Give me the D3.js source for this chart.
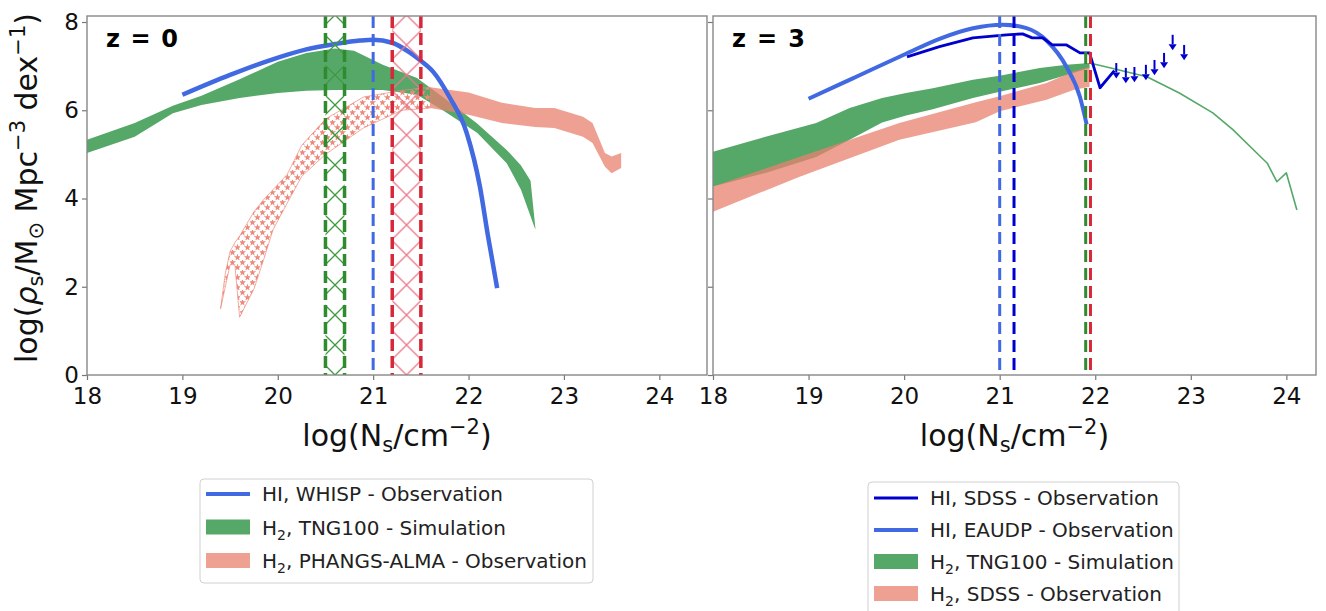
<!DOCTYPE html>
<html>
<head>
<meta charset="utf-8">
<script src="https://cdnjs.cloudflare.com/ajax/libs/d3/7.8.5/d3.min.js"></script>
<style>
  body { margin: 0; background: #fff; }
  svg { display: block; font-family: "DejaVu Sans", sans-serif; }
  text { white-space: pre; }
</style>
</head>
<body>
<script>
// ticks
const xTicks = [18, 19, 20, 21, 22, 23, 24];
const yTicks = [0, 2, 4, 6, 8];

// ---- z = 0 ----
// HI, WHISP
const whispN   = [19.0, 19.5, 19.9, 20.3, 20.6, 20.86, 21.0, 21.2, 21.39, 21.5, 21.63, 21.8, 21.98, 22.12, 22.2, 22.3];
const whispRho = [6.35, 6.8, 7.12, 7.38, 7.5, 7.58, 7.6, 7.53, 7.3, 7.12, 6.87, 6.3, 5.49, 4.26, 3.2, 1.97];
// H2, TNG100 z=0 band
const tngZ0N  = [18.0, 18.5, 18.9, 19.2, 19.6, 20.0, 20.3, 20.6, 20.8, 21.1, 21.46, 21.73, 22.09, 22.4, 22.55, 22.65, 22.7];
const tngZ0Hi = [5.33, 5.71, 6.1, 6.33, 6.7, 7.1, 7.3, 7.4, 7.35, 7.03, 6.73, 6.3, 5.7, 5.1, 4.75, 4.4, 3.35];
const tngZ0Lo = [5.03, 5.4, 5.93, 6.12, 6.28, 6.39, 6.44, 6.46, 6.46, 6.46, 6.35, 6.0, 5.49, 4.8, 4.2, 3.6, 3.3];
// H2, PHANGS-ALMA (hatched low-N part, then solid)
const phangsHatchN  = [19.4, 19.45, 19.5, 19.55, 19.6, 19.75, 19.85, 19.95, 20.1, 20.25, 20.5, 20.9, 21.3, 21.6];
const phangsHatchHi = [1.5, 2.3, 2.8, 3.0, 3.15, 3.7, 3.97, 4.2, 4.55, 5.2, 5.8, 6.3, 6.45, 6.52];
const phangsHatchLo = [1.5, 2.0, 2.5, 2.5, 1.31, 1.95, 2.6, 3.29, 3.9, 4.5, 5.0, 5.6, 6.0, 6.05];
const phangsN  = [21.6, 22.0, 22.35, 22.7, 22.9, 23.2, 23.3, 23.43, 23.5, 23.6];
const phangsHi = [6.52, 6.4, 6.17, 6.05, 6.05, 5.85, 5.71, 5.03, 4.95, 5.03];
const phangsLo = [6.05, 5.9, 5.71, 5.62, 5.6, 5.4, 5.26, 4.72, 4.57, 4.69];
// vertical spans / lines at z=0
const z0SpanLo = [20.5, 21.2];
const z0SpanHi = [20.7, 21.5];
const z0HILine = 21.0;

// ---- z = 3 ----
// HI, EAUDP
const eaudpN   = [19.0, 19.32, 19.5, 20.02, 20.37, 20.72, 21.03, 21.28, 21.49, 21.7, 21.84, 21.91];
const eaudpRho = [6.26, 6.58, 6.76, 7.28, 7.62, 7.86, 7.94, 7.86, 7.58, 6.98, 6.3, 5.68];
// HI, SDSS
const sdssHIN   = [20.03, 20.37, 20.72, 21.07, 21.24, 21.34, 21.45, 21.55, 21.7, 21.84, 21.94, 22.05, 22.2];
const sdssHIRho = [7.21, 7.44, 7.64, 7.71, 7.73, 7.64, 7.64, 7.48, 7.48, 7.3, 7.3, 6.51, 6.9];
// HI, SDSS upper limits
const sdssLimN   = [22.22, 22.32, 22.41, 22.53, 22.62, 22.72, 22.81, 22.93];
const sdssLimRho = [7.07, 6.96, 6.98, 7.03, 7.14, 7.3, 7.71, 7.48];
// H2, TNG100 z=3 band + tail
const tngZ3N  = [18.0, 18.55, 19.08, 19.43, 19.77, 20.02, 20.3, 20.72, 21.0, 21.42, 21.7, 21.94];
const tngZ3Hi = [5.06, 5.4, 5.71, 6.05, 6.28, 6.39, 6.5, 6.69, 6.78, 6.96, 7.03, 7.07];
const tngZ3Lo = [4.27, 4.58, 4.94, 5.33, 5.72, 5.88, 6.02, 6.28, 6.42, 6.62, 6.8, 6.96];
const tngTailN   = [21.94, 22.12, 22.54, 22.88, 23.23, 23.44, 23.69, 23.8, 23.9, 24.0, 24.11];
const tngTailRho = [7.07, 6.98, 6.76, 6.39, 5.94, 5.56, 5.03, 4.8, 4.38, 4.58, 3.74];
// H2, SDSS band
const sdssH2N  = [18.0, 18.9, 19.95, 20.75, 21.0, 21.49, 21.77, 21.94];
const sdssH2Hi = [4.27, 4.94, 5.71, 6.18, 6.32, 6.62, 6.88, 6.98];
const sdssH2Lo = [3.7, 4.49, 5.33, 5.73, 5.98, 6.24, 6.46, 6.53];
// vertical dashed lines at z=3
const z3LineN = [21.0, 21.15, 21.9, 21.95];

// colours
const cBlue = "#4169E1", cDark = "#0000CD", cGreen = "#55A868", cPink = "#E8806F";
const cDGreen = "#2E8B2E", cRed = "#D62838";

const svg = d3.select("body").append("svg").attr("width", 1326).attr("height", 611);
const defs = svg.append("defs");

const y = d3.scaleLinear().domain([0, 8.136]).range([375, 16]);
const xL = d3.scaleLinear().domain([18, 24.5]).range([87, 707]);
const xR = d3.scaleLinear().domain([18, 24.31]).range([713, 1316]);

const zip3 = (n, lo, hi) => n.map((v, i) => ({n: v, lo: lo[i], hi: hi[i]}));
const zip2 = (n, v) => n.map((a, i) => ({n: a, v: v[i]}));

function panel(x, showLabels, clipId) {
  const g = svg.append("g");
  defs.append("clipPath").attr("id", clipId).append("rect")
    .attr("x", x.range()[0]).attr("y", y.range()[1])
    .attr("width", x.range()[1] - x.range()[0]).attr("height", y.range()[0] - y.range()[1]);
  const plot = g.append("g").attr("clip-path", `url(#${clipId})`);

  const ax = g.append("g").attr("transform", `translate(0,${y.range()[0]})`)
    .call(d3.axisBottom(x).tickValues(xTicks).tickSize(5).tickPadding(8).tickFormat(d3.format("d")));
  const ay = g.append("g").attr("transform", `translate(${x.range()[0]},0)`)
    .call(d3.axisLeft(y).tickValues(yTicks).tickSize(5).tickPadding(3)
      .tickFormat(showLabels ? d3.format("d") : ""));
  [ax, ay].forEach(a => {
    a.select(".domain").remove();
    a.selectAll(".tick line").attr("stroke", "#777").attr("stroke-width", 1.2);
    a.selectAll(".tick text").attr("font-size", 23).attr("fill", "#111")
      .attr("font-family", "DejaVu Sans");
  });
  g.append("rect")
    .attr("x", x.range()[0]).attr("y", y.range()[1])
    .attr("width", x.range()[1] - x.range()[0]).attr("height", y.range()[0] - y.range()[1])
    .attr("fill", "none").attr("stroke", "#888").attr("stroke-width", 1.4);

  // x label
  const t = g.append("text").attr("x", (x.range()[0] + x.range()[1]) / 2).attr("y", 446)
    .attr("text-anchor", "middle").attr("font-size", 30).attr("fill", "#111");
  t.append("tspan").text("log(N");
  t.append("tspan").attr("font-size", 21).attr("dy", 6).text("s");
  t.append("tspan").attr("dy", -6).text("/cm");
  t.append("tspan").attr("font-size", 21).attr("dy", -12).text("−2");
  t.append("tspan").attr("dy", 12).text(")");
  return plot;
}

function band(plot, x, rows, fill, opacity) {
  const area = d3.area().x(d => x(d.n)).y0(d => y(d.lo)).y1(d => y(d.hi));
  return plot.append("path").datum(rows).attr("d", area)
    .attr("fill", fill).attr("fill-opacity", opacity);
}
function curve(plot, x, rows, color, w, kind) {
  const line = d3.line().x(d => x(d.n)).y(d => y(d.v)).curve(kind || d3.curveLinear);
  return plot.append("path").datum(rows).attr("d", line)
    .attr("fill", "none").attr("stroke", color).attr("stroke-width", w)
    .attr("stroke-linejoin", "round");
}
function vline(plot, x, n, color, w, dash) {
  plot.append("line").attr("x1", x(n)).attr("x2", x(n))
    .attr("y1", y.range()[1]).attr("y2", y.range()[0])
    .attr("stroke", color).attr("stroke-width", w).attr("stroke-dasharray", dash);
}
function xHatch(id, color, cx, P) {
  const p = defs.append("pattern").attr("id", id).attr("patternUnits", "userSpaceOnUse")
    .attr("width", P).attr("height", P).attr("patternTransform", `translate(${cx - P / 2},0)`);
  p.append("path").attr("d", `M-2,-2L${P + 2},${P + 2}M${P + 2},-2L-2,${P + 2}`)
    .attr("stroke", color).attr("stroke-width", 1.3).attr("fill", "none");
}

// star hatch for PHANGS low-N part
const sp = defs.append("pattern").attr("id", "stars").attr("patternUnits", "userSpaceOnUse")
  .attr("width", 10).attr("height", 10);
[[2.5, 2.5], [7.5, 7.5]].forEach(([a, b]) => {
  sp.append("path").attr("d", d3.symbol().type(d3.symbolStar).size(17)())
    .attr("transform", `translate(${a},${b})`).attr("fill", "#EE8A7C");
});

// ---------- left panel, z = 0 ----------
const pL = panel(xL, true, "clipL");
band(pL, xL, zip3(tngZ0N, tngZ0Lo, tngZ0Hi), cGreen, 1);
band(pL, xL, zip3(phangsHatchN, phangsHatchLo, phangsHatchHi), "url(#stars)", 1)
  .attr("stroke", "#EE8A7C").attr("stroke-width", 1).attr("stroke-opacity", 0.7);
band(pL, xL, zip3(phangsN, phangsLo, phangsHi), cPink, 0.75);
curve(pL, xL, zip2(whispN, whispRho), cBlue, 4.5, d3.curveMonotoneX);

const spanCols = [[cDGreen, "#3E9A3E"], [cRed, "#E9798A"]];
z0SpanLo.forEach((lo, i) => {
  const hi = z0SpanHi[i];
  xHatch("xh" + i, spanCols[i][1], (xL(lo) + xL(hi)) / 2, 30);
  pL.append("rect").attr("x", xL(lo)).attr("width", xL(hi) - xL(lo))
    .attr("y", y.range()[1]).attr("height", y.range()[0] - y.range()[1])
    .attr("fill", `url(#xh${i})`);
  vline(pL, xL, lo, spanCols[i][0], 3.5, "12,5");
  vline(pL, xL, hi, spanCols[i][0], 3.5, "12,5");
});
vline(pL, xL, z0HILine, cBlue, 3, "12,6");

svg.append("text").attr("x", 106).attr("y", 47).attr("font-size", 24).attr("font-weight", "bold")
  .attr("textLength", 72).attr("lengthAdjust", "spacing").text("z = 0");

// ---------- right panel, z = 3 ----------
const pR = panel(xR, false, "clipR");
band(pR, xR, zip3(tngZ3N, tngZ3Lo, tngZ3Hi), cGreen, 1);
curve(pR, xR, zip2(tngTailN, tngTailRho), cGreen, 1.6);
band(pR, xR, zip3(sdssH2N, sdssH2Lo, sdssH2Hi), cPink, 0.75);
curve(pR, xR, zip2(eaudpN, eaudpRho), cBlue, 4, d3.curveMonotoneX);
curve(pR, xR, zip2(sdssHIN, sdssHIRho), cDark, 2.8);
[cBlue, cDark, cDGreen, cRed].forEach((c, i) => vline(pR, xR, z3LineN[i], c, 3, "12,6"));

// upper-limit arrows
const lims = zip2(sdssLimN, sdssLimRho);
const arrowLen = 0.28;
pR.selectAll(".lim").data(lims).join("line").attr("class", "lim")
  .attr("x1", d => xR(d.n)).attr("x2", d => xR(d.n))
  .attr("y1", d => y(d.v)).attr("y2", d => y(d.v - arrowLen) - 3)
  .attr("stroke", cDark).attr("stroke-width", 2);
pR.selectAll(".head").data(lims).join("path").attr("class", "head")
  .attr("d", d => {
    const ax = xR(d.n), ay = y(d.v - arrowLen);
    return `M${ax - 4},${ay - 3}L${ax + 4},${ay - 3}L${ax},${ay + 3}Z`;
  })
  .attr("fill", cDark);

svg.append("text").attr("x", 732).attr("y", 47).attr("font-size", 24).attr("font-weight", "bold")
  .attr("textLength", 73).attr("lengthAdjust", "spacing").text("z = 3");

// y label
const yl = svg.append("text").attr("transform", "translate(37,188) rotate(-90)")
  .attr("text-anchor", "middle").attr("font-size", 30).attr("fill", "#111");
yl.append("tspan").text("log(");
yl.append("tspan").attr("font-style", "italic").text("ρ");
yl.append("tspan").attr("font-size", 21).attr("dy", 6).text("s");
yl.append("tspan").attr("dy", -6).text("/M");
yl.append("tspan").attr("font-size", 21).attr("dy", 6).text("⊙");
yl.append("tspan").attr("dy", -6).text(" Mpc");
yl.append("tspan").attr("font-size", 21).attr("dy", -12).text("−3");
yl.append("tspan").attr("dy", 12).text(" dex");
yl.append("tspan").attr("font-size", 21).attr("dy", -12).text("−1");
yl.append("tspan").attr("dy", 12).text(")");

// ---------- legends ----------
function legend(x0, y0, w, h, first, gap, items) {
  const g = svg.append("g");
  g.append("rect").attr("x", x0).attr("y", y0).attr("width", w).attr("height", h)
    .attr("rx", 4).attr("fill", "#fff").attr("stroke", "#d0d0d0").attr("stroke-width", 1);
  items.forEach((it, i) => {
    const cy = y0 + first + i * gap;
    if (it.type === "line") {
      g.append("line").attr("x1", x0 + 6).attr("x2", x0 + 50).attr("y1", cy).attr("y2", cy)
        .attr("stroke", it.color).attr("stroke-width", it.w);
    } else {
      g.append("rect").attr("x", x0 + 6).attr("y", cy - 8).attr("width", 44).attr("height", 15)
        .attr("fill", it.color).attr("fill-opacity", it.op);
    }
    const t = g.append("text").attr("x", x0 + 62).attr("y", cy).attr("dy", "0.36em")
      .attr("font-size", 20).attr("fill", "#222");
    if (it.sub) {
      t.append("tspan").text("H");
      t.append("tspan").attr("font-size", 14).attr("dy", 5).text("2");
      t.append("tspan").attr("dy", -5).text(it.label);
    } else {
      t.text(it.label);
    }
  });
}
legend(200, 479, 393, 104, 15, 33.5, [
  {type: "line", color: cBlue, w: 4, label: "HI, WHISP - Observation"},
  {type: "patch", color: cGreen, op: 1, sub: true, label: ", TNG100 - Simulation"},
  {type: "patch", color: cPink, op: 0.75, sub: true, label: ", PHANGS-ALMA - Observation"}
]);
legend(868, 482, 311, 150, 16, 32, [
  {type: "line", color: cDark, w: 3, label: "HI, SDSS - Observation"},
  {type: "line", color: cBlue, w: 4, label: "HI, EAUDP - Observation"},
  {type: "patch", color: cGreen, op: 1, sub: true, label: ", TNG100 - Simulation"},
  {type: "patch", color: cPink, op: 0.75, sub: true, label: ", SDSS - Observation"}
]);
</script>
</body>
</html>
